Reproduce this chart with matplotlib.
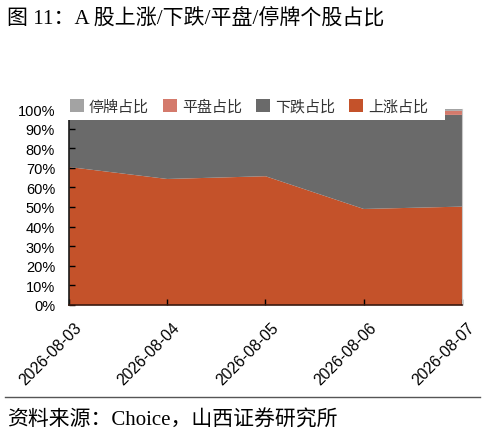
import matplotlib
matplotlib.use("Agg")
import matplotlib.pyplot as plt
from matplotlib.patches import Rectangle
from matplotlib.ticker import FuncFormatter
from matplotlib.transforms import ScaledTranslation

dates = ["2026-08-03", "2026-08-04", "2026-08-05", "2026-08-06", "2026-08-07"]
up = [0.704, 0.643, 0.657, 0.490, 0.502]
down = [0.266, 0.327, 0.313, 0.480, 0.468]
flat = [0.020, 0.020, 0.020, 0.020, 0.021]
susp = [0.010, 0.010, 0.010, 0.010, 0.009]

c_up = "#C4522A"
c_down = "#6A6A6A"
c_flat = "#D47A6C"
c_susp = "#A3A3A3"

plt.rcParams['font.family'] = ['Liberation Sans', 'Noto Sans CJK SC', 'DejaVu Sans']

fig = plt.figure(figsize=(4.85, 4.39), dpi=100)
W, H = 485, 439
L, R, T, B = 69, 462, 110, 306
ax = fig.add_axes([L / W, 1 - B / H, (R - L) / W, (B - T) / H])

x = list(range(len(dates)))
polys = ax.stackplot(x, up, down, flat, susp, colors=[c_up, c_down, c_flat, c_susp],
                     labels=["上涨占比", "下跌占比", "平盘占比", "停牌占比"], zorder=1)
ax.set_xlim(0, len(dates) - 1)
ax.set_ylim(0, 1)
ax.set_yticks([i / 10 for i in range(11)])
ax.yaxis.set_major_formatter(FuncFormatter(lambda v, p: f"{int(round(v * 100))}%"))
ax.set_xticks(x)
ax.set_xticklabels(dates, rotation=45, ha="right", rotation_mode="anchor")
ax.tick_params(axis="both", direction="in", colors="black", length=4, width=1)
ax.tick_params(axis="y", labelsize=10.5, pad=10)
ax.tick_params(axis="x", labelsize=11.3, pad=8)
off = ScaledTranslation(5 / 100, -3 / 100, fig.dpi_scale_trans)
for lab in ax.get_xticklabels():
    lab.set_transform(lab.get_transform() + off)
ax.spines["top"].set_visible(False)
ax.spines["right"].set_color("#C8C8C8")
ax.spines["left"].set_color("#1a1a1a")
ax.spines["bottom"].set_color("#3a1a10")
ax.spines["left"].set_linewidth(1.2)
ax.spines["bottom"].set_linewidth(1.2)
for sp in ax.spines.values():
    sp.set_zorder(3)

# white legend background covering top of plot
rect = Rectangle((60 / W, 1 - 121 / H), (445 - 60) / W, 26 / H, transform=fig.transFigure,
                 facecolor="white", edgecolor="none", zorder=5, clip_on=False)
ax.add_artist(rect)

handles, labels = ax.get_legend_handles_labels()
order = [3, 2, 1, 0]
leg = fig.legend([handles[i] for i in order], [labels[i] for i in order], ncol=4,
                 loc="center left", bbox_to_anchor=(70 / W, 1 - 107 / H), frameon=False,
                 fontsize=10.8, handlelength=0.95, handleheight=0.95, handletextpad=0.3,
                 columnspacing=0.95, borderaxespad=0, borderpad=0)
for t in leg.get_texts():
    t.set_color("#333333")
leg.set_zorder(6)

fig.text(7 / W, 1 - 18 / H, "图 11：A 股上涨/下跌/平盘/停牌个股占比", fontsize=15.1,
         family=['Liberation Serif', 'Noto Sans CJK SC'], va="center", ha="left")
fig.add_artist(plt.Line2D([5 / W, 480 / W], [1 - 398 / H, 1 - 398 / H], color="#555555", lw=1))
fig.text(7 / W, 1 - 421 / H, "资料来源：Choice，山西证券研究所", fontsize=15.0,
         family=['Liberation Serif', 'Noto Sans CJK SC'], va="center", ha="left")

fig.savefig("out.png", dpi=100)
